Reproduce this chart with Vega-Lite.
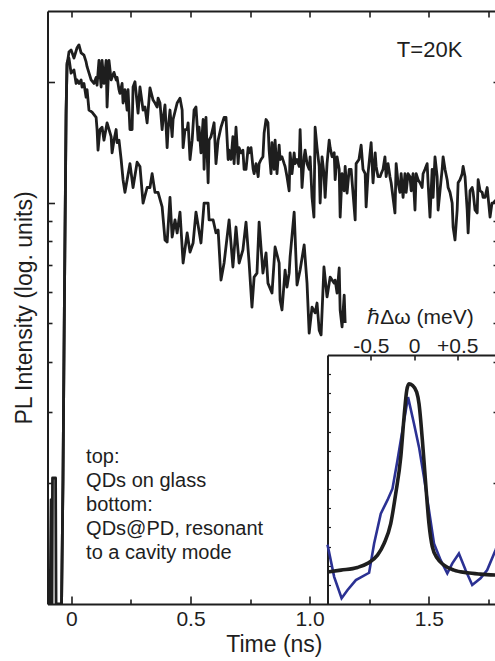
{
  "$schema": "https://vega.github.io/schema/vega-lite/v6.json",
  "width": 447.5,
  "height": 593,
  "autosize": {"type": "none"},
  "padding": {"left": 47.5, "top": 11, "right": 0, "bottom": 57},
  "background": "white",
  "config": {
    "view": {"stroke": null},
    "font": "Liberation Sans",
    "axis": {
      "domainColor": "#1e1e1e", "tickColor": "#1e1e1e", "labelColor": "#1e1e1e", "titleColor": "#1e1e1e",
      "domainWidth": 2, "tickWidth": 1.6, "grid": false,
      "labelFont": "Liberation Sans", "titleFont": "Liberation Sans",
      "labelFontSize": 21, "titleFontSize": 23, "titleFontWeight": "normal"
    }
  },
  "datasets": {
    "decay": [
      {"s":"a","t":-0.098,"I":1},{"s":"a","t":-0.089,"I":1},{"s":"a","t":-0.085,"I":1.82},{"s":"a","t":-0.081,"I":1},{"s":"a","t":-0.079,"I":2.06},{"s":"a","t":-0.066,"I":2.06},{"s":"a","t":-0.064,"I":1},{"s":"a","t":-0.041,"I":1},{"s":"a","t":-0.035,"I":2.04},{"s":"a","t":-0.029,"I":5.72},{"s":"a","t":-0.022,"I":17.0},{"s":"a","t":-0.018,"I":22.0},{"s":"a","t":-0.010,"I":23.7},{"s":"a","t":-0.001,"I":24.0},{"s":"a","t":0.011,"I":22.9},{"s":"a","t":0.024,"I":24.3},{"s":"a","t":0.032,"I":24.7},{"s":"a","t":0.041,"I":23.6},{"s":"a","t":0.053,"I":23.3},{"s":"a","t":0.062,"I":22.4},{"s":"a","t":0.066,"I":21.8},{"s":"a","t":0.083,"I":20.2},{"s":"a","t":0.095,"I":19.8},{"s":"a","t":0.104,"I":20.5},{"s":"a","t":0.108,"I":19.6},{"s":"a","t":0.116,"I":22.6},{"s":"a","t":0.125,"I":19.4},{"s":"a","t":0.129,"I":22.6},{"s":"a","t":0.137,"I":19.8},{"s":"a","t":0.146,"I":22.6},{"s":"a","t":0.150,"I":17.3},{"s":"a","t":0.158,"I":22.6},{"s":"a","t":0.167,"I":20.2},{"s":"a","t":0.179,"I":21.1},{"s":"a","t":0.188,"I":20.2},{"s":"a","t":0.192,"I":20.5},{"s":"a","t":0.200,"I":19.1},{"s":"a","t":0.204,"I":18.7},{"s":"a","t":0.213,"I":19.8},{"s":"a","t":0.217,"I":17.7},{"s":"a","t":0.225,"I":19.1},{"s":"a","t":0.234,"I":17.0},{"s":"a","t":0.238,"I":19.1},{"s":"a","t":0.246,"I":15.2},{"s":"a","t":0.255,"I":15.2},{"s":"a","t":0.259,"I":19.4},{"s":"a","t":0.267,"I":20.0},{"s":"a","t":0.276,"I":17.7},{"s":"a","t":0.280,"I":16.7},{"s":"a","t":0.288,"I":19.4},{"s":"a","t":0.301,"I":17.0},{"s":"a","t":0.309,"I":17.3},{"s":"a","t":0.318,"I":15.8},{"s":"a","t":0.330,"I":19.3},{"s":"a","t":0.343,"I":18.0},{"s":"a","t":0.351,"I":17.7},{"s":"a","t":0.360,"I":17.3},{"s":"a","t":0.364,"I":18.2},{"s":"a","t":0.372,"I":17.7},{"s":"a","t":0.381,"I":15.2},{"s":"a","t":0.385,"I":16.1},{"s":"a","t":0.393,"I":17.5},{"s":"a","t":0.402,"I":13.7},{"s":"a","t":0.406,"I":15.2},{"s":"a","t":0.414,"I":17.0},{"s":"a","t":0.423,"I":14.6},{"s":"a","t":0.427,"I":16.1},{"s":"a","t":0.444,"I":17.7},{"s":"a","t":0.456,"I":18.2},{"s":"a","t":0.465,"I":17.0},{"s":"a","t":0.469,"I":13.7},{"s":"a","t":0.477,"I":15.2},{"s":"a","t":0.486,"I":15.2},{"s":"a","t":0.490,"I":15.8},{"s":"a","t":0.498,"I":12.8},{"s":"a","t":0.507,"I":14.3},{"s":"a","t":0.515,"I":17.0},{"s":"a","t":0.523,"I":17.3},{"s":"a","t":0.532,"I":14.3},{"s":"a","t":0.536,"I":15.4},{"s":"a","t":0.544,"I":13.3},{"s":"a","t":0.553,"I":16.1},{"s":"a","t":0.557,"I":12.1},{"s":"a","t":0.565,"I":16.3},{"s":"a","t":0.574,"I":11.2},{"s":"a","t":0.578,"I":14.3},{"s":"a","t":0.586,"I":14.6},{"s":"a","t":0.595,"I":15.4},{"s":"a","t":0.599,"I":15.8},{"s":"a","t":0.607,"I":12.5},{"s":"a","t":0.616,"I":14.3},{"s":"a","t":0.628,"I":15.4},{"s":"a","t":0.641,"I":16.3},{"s":"a","t":0.649,"I":16.3},{"s":"a","t":0.658,"I":12.8},{"s":"a","t":0.662,"I":13.5},{"s":"a","t":0.670,"I":12.8},{"s":"a","t":0.678,"I":14.6},{"s":"a","t":0.683,"I":12.5},{"s":"a","t":0.691,"I":15.4},{"s":"a","t":0.700,"I":12.5},{"s":"a","t":0.704,"I":13.7},{"s":"a","t":0.712,"I":13.3},{"s":"a","t":0.720,"I":13.5},{"s":"a","t":0.725,"I":12.1},{"s":"a","t":0.733,"I":12.1},{"s":"a","t":0.742,"I":13.7},{"s":"a","t":0.746,"I":13.3},{"s":"a","t":0.754,"I":13.7},{"s":"a","t":0.763,"I":12.1},{"s":"a","t":0.767,"I":11.8},{"s":"a","t":0.775,"I":12.5},{"s":"a","t":0.784,"I":11.6},{"s":"a","t":0.788,"I":12.5},{"s":"a","t":0.796,"I":12.8},{"s":"a","t":0.804,"I":13.0},{"s":"a","t":0.809,"I":14.9},{"s":"a","t":0.817,"I":16.1},{"s":"a","t":0.825,"I":15.8},{"s":"a","t":0.830,"I":13.5},{"s":"a","t":0.838,"I":11.8},{"s":"a","t":0.842,"I":14.1},{"s":"a","t":0.851,"I":12.1},{"s":"a","t":0.855,"I":14.3},{"s":"a","t":0.863,"I":11.8},{"s":"a","t":0.872,"I":13.9},{"s":"a","t":0.876,"I":12.8},{"s":"a","t":0.884,"I":13.0},{"s":"a","t":0.893,"I":12.5},{"s":"a","t":0.897,"I":12.3},{"s":"a","t":0.905,"I":11.6},{"s":"a","t":0.914,"I":10.7},{"s":"a","t":0.918,"I":13.3},{"s":"a","t":0.926,"I":11.8},{"s":"a","t":0.935,"I":13.3},{"s":"a","t":0.939,"I":12.5},{"s":"a","t":0.947,"I":12.8},{"s":"a","t":0.956,"I":12.3},{"s":"a","t":0.960,"I":15.2},{"s":"a","t":0.968,"I":10.9},{"s":"a","t":0.977,"I":13.0},{"s":"a","t":0.981,"I":13.5},{"s":"a","t":0.989,"I":12.5},{"s":"a","t":0.998,"I":12.1},{"s":"a","t":1.002,"I":13.0},{"s":"a","t":1.010,"I":10.3},{"s":"a","t":1.018,"I":9.2},{"s":"a","t":1.023,"I":15.4},{"s":"a","t":1.031,"I":13.7},{"s":"a","t":1.040,"I":12.3},{"s":"a","t":1.044,"I":9.97},{"s":"a","t":1.052,"I":13.0},{"s":"a","t":1.060,"I":11.8},{"s":"a","t":1.065,"I":10.3},{"s":"a","t":1.073,"I":12.5},{"s":"a","t":1.082,"I":14.3},{"s":"a","t":1.086,"I":13.7},{"s":"a","t":1.094,"I":13.0},{"s":"a","t":1.103,"I":13.3},{"s":"a","t":1.107,"I":11.4},{"s":"a","t":1.115,"I":13.0},{"s":"a","t":1.124,"I":12.1},{"s":"a","t":1.128,"I":9.2},{"s":"a","t":1.136,"I":11.8},{"s":"a","t":1.145,"I":10.7},{"s":"a","t":1.149,"I":12.3},{"s":"a","t":1.157,"I":10.56},{"s":"a","t":1.166,"I":12.1},{"s":"a","t":1.174,"I":12.1},{"s":"a","t":1.191,"I":9.05},{"s":"a","t":1.195,"I":12.5},{"s":"a","t":1.207,"I":12.8},{"s":"a","t":1.216,"I":13.9},{"s":"a","t":1.224,"I":12.1},{"s":"a","t":1.233,"I":11.8},{"s":"a","t":1.237,"I":9.75},{"s":"a","t":1.245,"I":11.8},{"s":"a","t":1.258,"I":14.1},{"s":"a","t":1.266,"I":11.2},{"s":"a","t":1.275,"I":13.3},{"s":"a","t":1.279,"I":12.3},{"s":"a","t":1.287,"I":11.6},{"s":"a","t":1.296,"I":11.6},{"s":"a","t":1.300,"I":11.8},{"s":"a","t":1.308,"I":12.1},{"s":"a","t":1.316,"I":13.0},{"s":"a","t":1.321,"I":11.6},{"s":"a","t":1.329,"I":12.5},{"s":"a","t":1.337,"I":11.6},{"s":"a","t":1.342,"I":11.2},{"s":"a","t":1.358,"I":9.42},{"s":"a","t":1.363,"I":12.5},{"s":"a","t":1.371,"I":11.2},{"s":"a","t":1.379,"I":10.6},{"s":"a","t":1.384,"I":11.8},{"s":"a","t":1.392,"I":10.3},{"s":"a","t":1.400,"I":11.8},{"s":"a","t":1.405,"I":10.6},{"s":"a","t":1.413,"I":11.8},{"s":"a","t":1.421,"I":11.6},{"s":"a","t":1.426,"I":10.7},{"s":"a","t":1.434,"I":11.8},{"s":"a","t":1.442,"I":9.58},{"s":"a","t":1.447,"I":11.8},{"s":"a","t":1.455,"I":11.4},{"s":"a","t":1.463,"I":11.2},{"s":"a","t":1.472,"I":10.9},{"s":"a","t":1.476,"I":11.8},{"s":"a","t":1.484,"I":12.1},{"s":"a","t":1.493,"I":12.5},{"s":"a","t":1.497,"I":11.2},{"s":"a","t":1.505,"I":9.2},{"s":"a","t":1.514,"I":12.1},{"s":"a","t":1.518,"I":10.3},{"s":"a","t":1.526,"I":13.0},{"s":"a","t":1.535,"I":11.6},{"s":"a","t":1.539,"I":9.58},{"s":"a","t":1.547,"I":10.7},{"s":"a","t":1.556,"I":12.1},{"s":"a","t":1.560,"I":13.0},{"s":"a","t":1.568,"I":12.1},{"s":"a","t":1.577,"I":11.4},{"s":"a","t":1.581,"I":10.9},{"s":"a","t":1.589,"I":10.6},{"s":"a","t":1.598,"I":9.97},{"s":"a","t":1.602,"I":8.69},{"s":"a","t":1.610,"I":8.07},{"s":"a","t":1.619,"I":9.58},{"s":"a","t":1.623,"I":11.2},{"s":"a","t":1.631,"I":11.4},{"s":"a","t":1.640,"I":11.8},{"s":"a","t":1.644,"I":12.3},{"s":"a","t":1.652,"I":11.6},{"s":"a","t":1.661,"I":9.58},{"s":"a","t":1.665,"I":8.4},{"s":"a","t":1.673,"I":10.7},{"s":"a","t":1.682,"I":10.9},{"s":"a","t":1.686,"I":10.6},{"s":"a","t":1.694,"I":9.58},{"s":"a","t":1.703,"I":9.42},{"s":"a","t":1.707,"I":11.4},{"s":"a","t":1.715,"I":10.7},{"s":"a","t":1.724,"I":10.6},{"s":"a","t":1.728,"I":10.3},{"s":"a","t":1.736,"I":10.3},{"s":"a","t":1.745,"I":10.9},{"s":"a","t":1.749,"I":10.3},{"s":"a","t":1.757,"I":9.2},{"s":"a","t":1.765,"I":9.97},{"s":"a","t":1.770,"I":9.97},{"s":"a","t":1.778,"I":10.1},{"s":"a","t":1.799,"I":9.86},
      {"s":"b","t":-0.041,"I":1},{"s":"b","t":-0.035,"I":2.04},{"s":"b","t":-0.029,"I":5.72},{"s":"b","t":-0.022,"I":16.5},{"s":"b","t":-0.018,"I":22.3},{"s":"b","t":-0.010,"I":22.9},{"s":"b","t":-0.001,"I":21.0},{"s":"b","t":0.011,"I":21.4},{"s":"b","t":0.020,"I":19.8},{"s":"b","t":0.024,"I":20.2},{"s":"b","t":0.032,"I":19.8},{"s":"b","t":0.041,"I":20.2},{"s":"b","t":0.045,"I":19.4},{"s":"b","t":0.053,"I":19.8},{"s":"b","t":0.062,"I":18.3},{"s":"b","t":0.066,"I":19.1},{"s":"b","t":0.074,"I":17.0},{"s":"b","t":0.087,"I":16.8},{"s":"b","t":0.104,"I":16.3},{"s":"b","t":0.108,"I":15.2},{"s":"b","t":0.112,"I":13.5},{"s":"b","t":0.120,"I":15.2},{"s":"b","t":0.129,"I":15.4},{"s":"b","t":0.137,"I":14.3},{"s":"b","t":0.150,"I":15.8},{"s":"b","t":0.167,"I":14.6},{"s":"b","t":0.171,"I":13.3},{"s":"b","t":0.179,"I":14.3},{"s":"b","t":0.188,"I":15.2},{"s":"b","t":0.192,"I":14.1},{"s":"b","t":0.200,"I":14.3},{"s":"b","t":0.209,"I":12.8},{"s":"b","t":0.217,"I":11.4},{"s":"b","t":0.225,"I":10.6},{"s":"b","t":0.246,"I":12.5},{"s":"b","t":0.259,"I":10.9},{"s":"b","t":0.276,"I":12.6},{"s":"b","t":0.288,"I":12.3},{"s":"b","t":0.301,"I":9.97},{"s":"b","t":0.318,"I":10.9},{"s":"b","t":0.330,"I":10.9},{"s":"b","t":0.339,"I":11.8},{"s":"b","t":0.351,"I":10.6},{"s":"b","t":0.364,"I":10.6},{"s":"b","t":0.381,"I":9.75},{"s":"b","t":0.393,"I":8.07},{"s":"b","t":0.402,"I":7.97},{"s":"b","t":0.414,"I":10.3},{"s":"b","t":0.423,"I":8.2},{"s":"b","t":0.435,"I":9.05},{"s":"b","t":0.444,"I":8.4},{"s":"b","t":0.456,"I":9.47},{"s":"b","t":0.469,"I":7.07},{"s":"b","t":0.486,"I":8.4},{"s":"b","t":0.498,"I":7.53},{"s":"b","t":0.511,"I":7.93},{"s":"b","t":0.523,"I":9.47},{"s":"b","t":0.544,"I":7.93},{"s":"b","t":0.557,"I":9.97},{"s":"b","t":0.574,"I":9.97},{"s":"b","t":0.578,"I":9.05},{"s":"b","t":0.595,"I":9.05},{"s":"b","t":0.607,"I":8.4},{"s":"b","t":0.616,"I":8.54},{"s":"b","t":0.628,"I":6.41},{"s":"b","t":0.641,"I":7.07},{"s":"b","t":0.662,"I":9.05},{"s":"b","t":0.678,"I":6.91},{"s":"b","t":0.691,"I":8.69},{"s":"b","t":0.704,"I":7.07},{"s":"b","t":0.720,"I":7.62},{"s":"b","t":0.733,"I":8.94},{"s":"b","t":0.746,"I":7.07},{"s":"b","t":0.758,"I":5.49},{"s":"b","t":0.767,"I":6.52},{"s":"b","t":0.779,"I":6.67},{"s":"b","t":0.788,"I":8.94},{"s":"b","t":0.804,"I":6.67},{"s":"b","t":0.817,"I":7.49},{"s":"b","t":0.825,"I":6.3},{"s":"b","t":0.842,"I":5.95},{"s":"b","t":0.855,"I":7.75},{"s":"b","t":0.872,"I":7.07},{"s":"b","t":0.876,"I":5.72},{"s":"b","t":0.884,"I":5.4},{"s":"b","t":0.897,"I":6.79},{"s":"b","t":0.905,"I":6.16},{"s":"b","t":0.914,"I":6.67},{"s":"b","t":0.918,"I":7.32},{"s":"b","t":0.935,"I":9.47},{"s":"b","t":0.947,"I":6.23},{"s":"b","t":0.960,"I":6.79},{"s":"b","t":0.977,"I":7.84},{"s":"b","t":0.989,"I":6.3},{"s":"b","t":0.998,"I":4.73},{"s":"b","t":1.010,"I":5.49},{"s":"b","t":1.023,"I":5.31},{"s":"b","t":1.031,"I":5.62},{"s":"b","t":1.040,"I":4.81},{"s":"b","t":1.048,"I":4.68},{"s":"b","t":1.060,"I":6.91},{"s":"b","t":1.073,"I":5.82},{"s":"b","t":1.086,"I":6.52},{"s":"b","t":1.103,"I":6.3},{"s":"b","t":1.107,"I":6.41},{"s":"b","t":1.115,"I":5.95},{"s":"b","t":1.124,"I":6.87},{"s":"b","t":1.128,"I":5.4},{"s":"b","t":1.136,"I":4.9},{"s":"b","t":1.145,"I":5.88},{"s":"b","t":1.149,"I":5.01}
    ],
    "notes": [
      {"t": 0.062, "I": 2.244, "label": "top:\nQDs on glass\nbottom:\nQDs@PD, resonant\nto a cavity mode"}
    ],
    "temp": [
      {"t": 1.366, "I": 23.08, "label": "T=20K"}
    ],
    "spec": [
      {"E":-1.0,"S":3.1},{"E":-0.923,"S":1.42},{"E":-0.837,"S":0.3},{"E":-0.768,"S":0.73},{"E":-0.672,"S":1.25},{"E":-0.519,"S":1.63},{"E":-0.461,"S":3.16},{"E":-0.384,"S":4.72},{"E":-0.307,"S":5.42},{"E":-0.249,"S":6.02},{"E":-0.191,"S":7.5},{"E":-0.134,"S":9.06},{"E":-0.069,"S":10.8},{"E":0.0,"S":9.41},{"E":0.058,"S":8.19},{"E":0.115,"S":6.63},{"E":0.173,"S":4.9},{"E":0.231,"S":3.16},{"E":0.308,"S":2.29},{"E":0.385,"S":1.6},{"E":0.443,"S":2.12},{"E":0.519,"S":2.64},{"E":0.596,"S":1.77},{"E":0.673,"S":0.99},{"E":0.769,"S":1.34},{"E":0.846,"S":1.77},{"E":0.942,"S":2.81},{"E":1.0,"S":3.5}
    ],
    "fit": [
      {"E":-1.0,"S":1.67},{"E":-0.845,"S":1.77},{"E":-0.653,"S":1.91},{"E":-0.537,"S":2.12},{"E":-0.422,"S":2.55},{"E":-0.346,"S":3.16},{"E":-0.269,"S":4.2},{"E":-0.211,"S":5.77},{"E":-0.153,"S":7.67},{"E":-0.115,"S":9.76},{"E":-0.084,"S":11.15},{"E":-0.058,"S":11.49},{"E":-0.018,"S":11.41},{"E":0.031,"S":11.06},{"E":0.058,"S":10.45},{"E":0.097,"S":8.54},{"E":0.135,"S":6.29},{"E":0.173,"S":4.2},{"E":0.212,"S":2.98},{"E":0.27,"S":2.38},{"E":0.346,"S":2.03},{"E":0.461,"S":1.77},{"E":0.616,"S":1.63},{"E":0.769,"S":1.56},{"E":1.0,"S":1.5}
    ]
  },
  "layer": [
    {
      "layer": [
        {
          "data": {"name": "decay"},
          "mark": {"type": "line", "color": "#1e1e1e", "strokeWidth": 2.8, "strokeJoin": "round", "clip": true},
          "encoding": {
            "x": {"field": "t", "type": "quantitative",
              "scale": {"domain": [-0.1, 1.8], "range": [0, 452.8], "nice": false, "zero": false},
              "axis": {"orient": "bottom", "values": [0, 0.5, 1, 1.5], "labelExpr": "datum.value == 0 ? '0' : format(datum.value, '.1f')", "tickSize": -8, "labelPadding": 12, "title": "Time (ns)", "titleY": 29, "domain": true}},
            "y": {"field": "I", "type": "quantitative",
              "scale": {"type": "log", "domain": [1, 30], "nice": false},
              "axis": {"orient": "left", "values": [10, 20], "tickSize": -7, "labels": false, "domain": true, "title": "PL Intensity (log. units)", "titleX": -10.8}},
            "detail": {"field": "s"}
          }
        },
        {
          "data": {"name": "notes"},
          "mark": {"type": "text", "align": "left", "baseline": "alphabetic", "fontSize": 20, "lineBreak": "\n", "lineHeight": 24, "color": "#1e1e1e", "font": "Liberation Sans"},
          "encoding": {
            "x": {"field": "t", "type": "quantitative"},
            "y": {"field": "I", "type": "quantitative"},
            "text": {"field": "label"}
          }
        },
        {
          "data": {"name": "temp"},
          "mark": {"type": "text", "align": "left", "baseline": "alphabetic", "fontSize": 22, "color": "#1e1e1e", "font": "Liberation Sans"},
          "encoding": {
            "x": {"field": "t", "type": "quantitative"},
            "y": {"field": "I", "type": "quantitative"},
            "text": {"field": "label"}
          }
        }
      ]
    },
    {
      "data": {"name": "decay"},
      "mark": {"type": "line", "opacity": 0},
      "encoding": {
        "x": {"field": "t", "type": "quantitative",
          "scale": {"domain": [-0.1, 1.8], "range": [0, 452.8], "nice": false, "zero": false},
          "axis": {"orient": "top", "values": [0, 0.25, 0.5, 0.75, 1, 1.25, 1.5, 1.75], "tickSize": -6, "labels": false, "domain": true, "title": null}},
        "y": {"field": "I", "type": "quantitative",
          "scale": {"type": "log", "domain": [1, 30], "nice": false},
          "axis": {"orient": "right", "offset": 4, "values": [2, 3, 4, 5, 6, 7, 8, 9, 10, 20], "tickSize": -6, "labels": false, "domain": false, "title": null}},
        "detail": {"field": "s"}
      }
    },
    {
      "data": {"name": "decay"},
      "mark": {"type": "line", "opacity": 0},
      "encoding": {
        "x": {"field": "t", "type": "quantitative",
          "scale": {"domain": [-0.1, 1.8], "range": [0, 452.8], "nice": false, "zero": false},
          "axis": {"orient": "bottom", "values": [0.25, 0.75, 1.25, 1.75], "tickSize": -5, "labels": false, "domain": false, "title": null}},
        "y": {"field": "I", "type": "quantitative",
          "scale": {"type": "log", "domain": [1, 30], "nice": false},
          "axis": {"orient": "left", "values": [2, 3, 4, 5, 6, 7, 8, 9], "tickSize": -4.5, "labels": false, "domain": false, "title": null}},
        "detail": {"field": "s"}
      }
    },
    {
      "layer": [
        {
          "data": {"name": "spec"},
          "mark": {"type": "line", "color": "#2b3193", "strokeWidth": 2.6, "strokeJoin": "miter"},
          "encoding": {
            "x": {"field": "E", "type": "quantitative",
              "scale": {"domain": [-1, 1], "range": [280, 453], "nice": false, "zero": false},
              "axis": {"orient": "top", "offset": -344, "values": [-0.5, 0, 0.5], "labelExpr": "datum.value > 0 ? '+' + format(datum.value, '.1f') : (datum.value < 0 ? '-' + format(-datum.value, '.1f') : '0')", "tickSize": -5, "labelPadding": 3.6, "domain": true, "title": "ℏΔω (meV)", "titleFontSize": 21, "titleX": 372.5, "titleY": -27.5}},
            "y": {"field": "S", "type": "quantitative",
              "scale": {"domain": [0, 13], "range": [593, 344], "nice": false},
              "axis": {"orient": "left", "offset": -280, "values": [1, 2, 3, 4, 5, 6, 7, 8, 9, 10, 11, 12], "tickSize": -3, "tickWidth": 1.2, "labels": false, "domain": true, "title": null}}
          }
        },
        {
          "data": {"name": "fit"},
          "mark": {"type": "line", "color": "#1e1e1e", "strokeWidth": 3.6, "interpolate": "monotone"},
          "encoding": {
            "x": {"field": "E", "type": "quantitative"},
            "y": {"field": "S", "type": "quantitative"}
          }
        }
      ]
    }
  ],
  "resolve": {"scale": {"x": "independent", "y": "independent"}, "axis": {"x": "independent", "y": "independent"}}
}
